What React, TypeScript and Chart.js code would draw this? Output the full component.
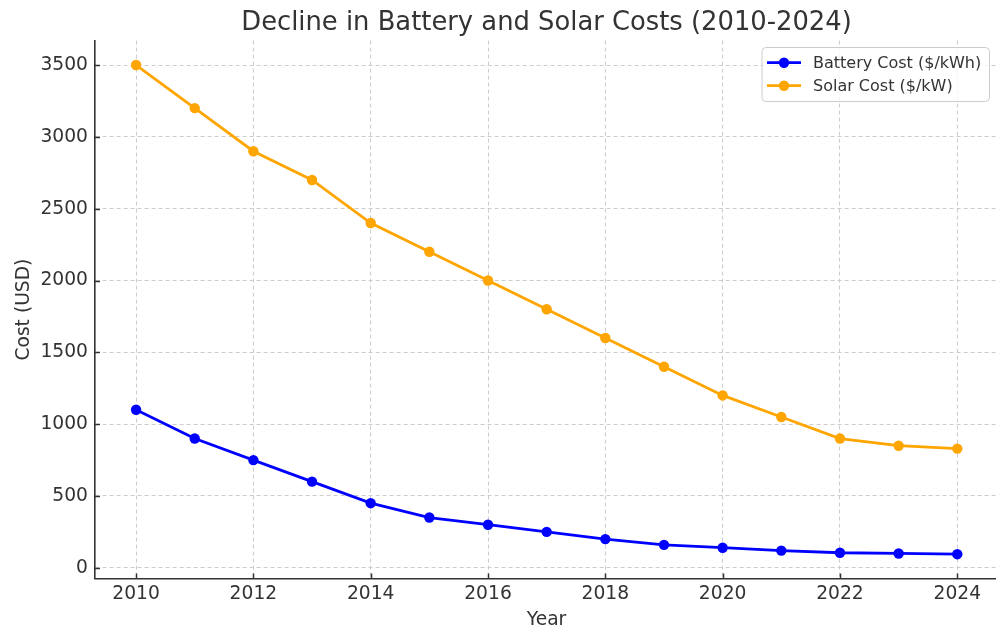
import React, { useEffect, useRef } from "react";
import { Chart, registerables } from "chart.js";

Chart.register(...registerables);

// Series data
const years = [2010, 2011, 2012, 2013, 2014, 2015, 2016, 2017, 2018, 2019, 2020, 2021, 2022, 2023, 2024];
const batteryCost = [1100, 900, 750, 600, 450, 350, 300, 250, 200, 160, 140, 120, 105, 100, 95];
const solarCost = [3500, 3200, 2900, 2700, 2400, 2200, 2000, 1800, 1600, 1400, 1200, 1050, 900, 850, 830];

// Axis ticks and text
const xTicks = [2010, 2012, 2014, 2016, 2018, 2020, 2022, 2024];
const yTicks = [0, 500, 1000, 1500, 2000, 2500, 3000, 3500];
const titleText = "Decline in Battery and Solar Costs (2010-2024)";
const xLabel = "Year";
const yLabel = "Cost (USD)";
const seriesNames = ["Battery Cost ($/kWh)", "Solar Cost ($/kW)"];
const seriesColors = ["#0000ff", "#ffa500"];

const FONT = "'DejaVu Sans', 'Liberation Sans', sans-serif";
const TEXT = "#333333";
const SPINE = "#333333";

// Draws title, axis titles, inward tick marks and the legend box.
const decorPlugin = {
  id: "decor",
  afterDraw(chart: any) {
    const { ctx, chartArea } = chart;
    const xs = chart.scales.x;
    const ys = chart.scales.y;
    const cx = (chartArea.left + chartArea.right) / 2 + 1;

    ctx.save();
    // inward ticks
    ctx.strokeStyle = SPINE;
    ctx.lineWidth = 1.5;
    ctx.beginPath();
    for (const t of xTicks) {
      const px = Math.round(xs.getPixelForValue(t)) + 0.5;
      ctx.moveTo(px, chartArea.bottom);
      ctx.lineTo(px, chartArea.bottom - 5);
    }
    for (const t of yTicks) {
      const py = Math.round(ys.getPixelForValue(t)) + 0.5;
      ctx.moveTo(chartArea.left, py);
      ctx.lineTo(chartArea.left + 5, py);
    }
    ctx.stroke();

    // title
    ctx.fillStyle = TEXT;
    ctx.textAlign = "center";
    ctx.textBaseline = "alphabetic";
    ctx.font = `25.8px ${FONT}`;
    ctx.fillText(titleText, cx, 29.5);

    // axis titles
    ctx.font = `18.7px ${FONT}`;
    ctx.fillText(xLabel, cx, 625);
    ctx.save();
    ctx.translate(29, (chartArea.top + chartArea.bottom) / 2);
    ctx.rotate(-Math.PI / 2);
    ctx.fillText(yLabel, 0, 0);
    ctx.restore();

    // legend
    const lx = 762, ly = 47.5, lw = 227.5, lh = 54;
    ctx.beginPath();
    ctx.roundRect(lx, ly, lw, lh, 4);
    ctx.fillStyle = "rgba(255,255,255,0.8)";
    ctx.fill();
    ctx.strokeStyle = "#cccccc";
    ctx.lineWidth = 1;
    ctx.stroke();
    const rows = [62.7, 85.7];
    ctx.font = `16px ${FONT}`;
    ctx.textAlign = "left";
    ctx.textBaseline = "middle";
    rows.forEach((ry, i) => {
      ctx.strokeStyle = seriesColors[i];
      ctx.lineWidth = 2.8;
      ctx.beginPath();
      ctx.moveTo(767, ry);
      ctx.lineTo(801, ry);
      ctx.stroke();
      ctx.fillStyle = seriesColors[i];
      ctx.beginPath();
      ctx.arc(784, ry, 5.2, 0, Math.PI * 2);
      ctx.fill();
      ctx.fillStyle = TEXT;
      ctx.fillText(seriesNames[i], 813, ry + 1);
    });
    ctx.restore();
  },
};

export default function App() {
  const canvasRef = useRef<HTMLCanvasElement | null>(null);

  useEffect(() => {
    if (!canvasRef.current) return;
    const mk = (vals: number[]) => years.map((y, i) => ({ x: y, y: vals[i] }));
    const chart = new Chart(canvasRef.current, {
      type: "line",
      data: {
        datasets: [
          {
            label: seriesNames[0],
            data: mk(batteryCost),
            borderColor: seriesColors[0],
            backgroundColor: seriesColors[0],
            borderWidth: 2.8,
            pointRadius: 5.2,
            pointBorderWidth: 0,
            pointHoverRadius: 5.2,
            tension: 0,
          },
          {
            label: seriesNames[1],
            data: mk(solarCost),
            borderColor: seriesColors[1],
            backgroundColor: seriesColors[1],
            borderWidth: 2.8,
            pointRadius: 5.2,
            pointBorderWidth: 0,
            pointHoverRadius: 5.2,
            tension: 0,
          },
        ],
      },
      options: {
        responsive: false,
        animation: false,
        devicePixelRatio: 1,
        layout: { autoPadding: false, padding: { top: 40.6, right: 0, left: 0, bottom: 0 } },
        plugins: {
          legend: { display: false },
          title: { display: false },
          tooltip: { enabled: false },
        },
        scales: {
          x: {
            type: "linear",
            min: 2009.3,
            max: 2024.66,
            afterFit: (s: any) => {
              s.height = 49.4;
              s.paddingLeft = 0;
              s.paddingRight = 0;
            },
            afterBuildTicks: (s: any) => {
              s.ticks = xTicks.map((v) => ({ value: v }));
            },
            ticks: {
              color: TEXT,
              font: { family: FONT, size: 18.7 },
              padding: 4,
              maxRotation: 0,
              autoSkip: false,
              callback: (v: any) => String(v),
            },
            grid: { color: "#cccccc", lineWidth: 1, drawTicks: false },
            border: { display: true, color: SPINE, width: 1.6, dash: [4, 3] },
          },
          y: {
            type: "linear",
            min: -75,
            max: 3670,
            afterFit: (s: any) => {
              s.width = 95;
              s.paddingTop = 0;
              s.paddingBottom = 0;
            },
            afterBuildTicks: (s: any) => {
              s.ticks = yTicks.map((v) => ({ value: v }));
            },
            ticks: {
              color: TEXT,
              font: { family: FONT, size: 18.7 },
              padding: 7,
              autoSkip: false,
              callback: (v: any) => String(v),
            },
            grid: { color: "#cccccc", lineWidth: 1, drawTicks: false },
            border: { display: true, color: SPINE, width: 1.6, dash: [4, 3] },
          },
        },
      },
      plugins: [decorPlugin],
    });
    return () => chart.destroy();
  }, []);

  return (
    <div style={{ position: "fixed", left: 0, top: 0, width: 996, height: 628, background: "#ffffff" }}>
      <canvas ref={canvasRef} width={996} height={628} style={{ display: "block" }} />
    </div>
  );
}
